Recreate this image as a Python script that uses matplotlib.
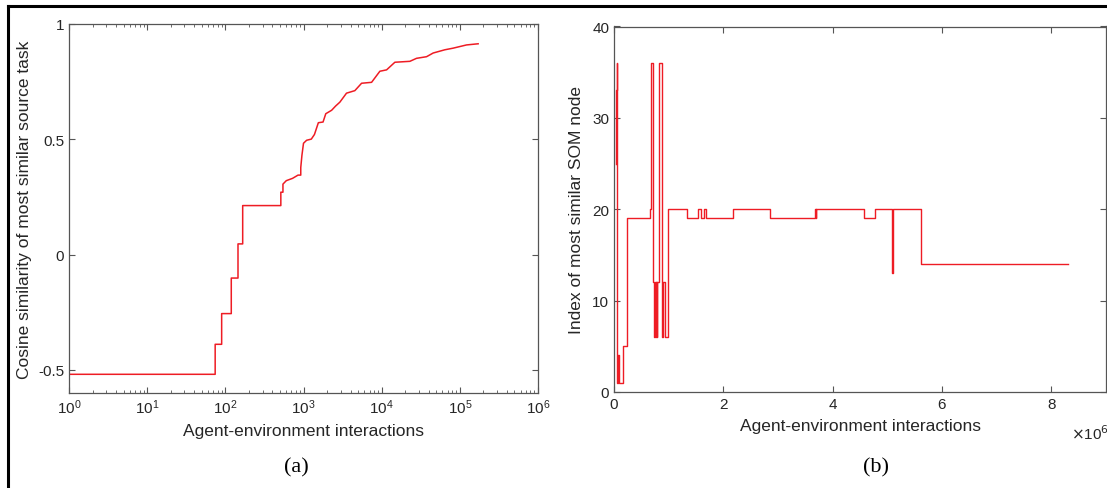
import numpy as np
import matplotlib
matplotlib.use("Agg")
import matplotlib.pyplot as plt
from matplotlib.lines import Line2D
from matplotlib.ticker import FixedLocator, LogLocator, NullFormatter, FuncFormatter

# ---- data: panel (a), cosine similarity vs interactions (log10 of x) ----
# early part is stepwise (repeated x = vertical jump), late part is a gradual curve
log_interactions_a = [0.0, 1.87, 1.87, 1.953, 1.953, 2.076, 2.076, 2.162, 2.162, 2.222,
                      2.222, 2.71, 2.71, 2.737, 2.737, 2.78, 2.86, 2.93, 2.965, 2.965,
                      2.98, 3.0, 3.04, 3.1, 3.14, 3.19, 3.25, 3.285, 3.36, 3.41,
                      3.465, 3.55, 3.657, 3.743, 3.871, 3.977, 4.063, 4.169, 4.361, 4.446,
                      4.574, 4.659, 4.808, 4.914, 5.086, 5.234]
cos_similarity = [-0.519, -0.519, -0.389, -0.389, -0.256, -0.256, -0.102, -0.102, 0.046, 0.046,
                  0.212, 0.212, 0.27, 0.27, 0.305, 0.32, 0.33, 0.344, 0.344, 0.377,
                  0.43, 0.482, 0.495, 0.50, 0.52, 0.571, 0.574, 0.61, 0.625, 0.643,
                  0.66, 0.699, 0.71, 0.742, 0.746, 0.794, 0.80, 0.833, 0.837, 0.85,
                  0.857, 0.873, 0.887, 0.894, 0.908, 0.913]

# ---- data: panel (b), SOM node index vs interactions (millions) ----
interactions_b = [0.03, 0.04, 0.05, 0.06, 0.07, 0.1, 0.13, 0.17, 0.23, 0.24, 0.655, 0.67,
                  0.72, 0.74, 0.75, 0.76, 0.77, 0.78, 0.79, 0.82, 0.87, 0.885, 0.89, 0.94,
                  0.99, 1.34, 1.53, 1.59, 1.645, 1.68, 2.18, 2.86, 3.67, 3.69, 3.70, 3.72,
                  4.57, 4.77, 5.08, 5.11, 5.61, 8.30]
som_index = [25, 33, 36, 1, 4, 1, 1, 5, 13, 19, 20, 36,
             12, 6, 12, 6, 12, 6, 12, 36, 12, 6, 12, 6,
             20, 19, 20, 19, 20, 19, 20, 19, 20, 19, 20, 20,
             19, 20, 13, 20, 14, 14]

LINE_RED = "#ee1c24"
GRAY = "#262626"
SPINE = "#555555"

plt.rcParams["font.family"] = ["Liberation Sans", "DejaVu Sans"]

fig = plt.figure(figsize=(11.07, 4.89), dpi=100)
W, H = 1107.0, 489.0


def px_axes(left, top, right, bottom):
    return fig.add_axes([left / W, 1 - bottom / H, (right - left) / W, (bottom - top) / H])


def matlab_style(ax):
    for s in ax.spines.values():
        s.set_color(SPINE)
        s.set_linewidth(0.9)
    ax.tick_params(which="both", direction="in", top=True, right=True,
                   colors=SPINE, labelcolor=GRAY, labelsize=11)
    ax.tick_params(which="major", length=4)
    ax.tick_params(which="minor", length=2)


# panel (a)
ax1 = px_axes(69, 24.7, 538, 394)
x_a = [10 ** v for v in log_interactions_a]
ax1.plot(x_a, cos_similarity, color=LINE_RED, lw=1.1)
ax1.set_xscale("log")
ax1.set_xlim(1, 1e6)
ax1.set_ylim(-0.6, 1)
ax1.xaxis.set_major_locator(LogLocator(base=10, numticks=10))
ax1.xaxis.set_minor_locator(LogLocator(base=10, subs=np.arange(2, 10), numticks=20))
ax1.xaxis.set_minor_formatter(NullFormatter())
ax1.yaxis.set_major_locator(FixedLocator([-0.5, 0, 0.5, 1]))
ax1.yaxis.set_major_formatter(FuncFormatter(lambda v, p: "%g" % v))
matlab_style(ax1)
ax1.set_xlabel("Agent-environment interactions", fontsize=12.5, color=GRAY, labelpad=5)
ax1.set_ylabel("Cosine similarity of most similar source task", fontsize=12.5, color=GRAY,
               labelpad=4)

# panel (b)
ax2 = px_axes(614, 27.5, 1106, 393)
ax2.plot(interactions_b, som_index, color=LINE_RED, lw=1.0, drawstyle="steps-post")
ax2.set_xlim(0, 9)
ax2.set_ylim(0, 40)
ax2.xaxis.set_major_locator(FixedLocator([0, 2, 4, 6, 8]))
ax2.yaxis.set_major_locator(FixedLocator([0, 10, 20, 30, 40]))
matlab_style(ax2)
ax2.set_xlabel("Agent-environment interactions", fontsize=12.5, color=GRAY, labelpad=5)
ax2.set_ylabel("Index of most similar SOM node", fontsize=12.5, color=GRAY, labelpad=6)
fig.text(1090 / W, 1 - 434 / H, r"$\times$10$^6$", fontsize=11, color=GRAY,
         ha="center", va="center")

# sub-figure captions
fig.text(296 / W, 1 - 468 / H, "(a)", fontsize=16, family=["Liberation Serif"],
         ha="center", va="center")
fig.text(876 / W, 1 - 468 / H, "(b)", fontsize=16, family=["Liberation Serif"],
         ha="center", va="center")

# outer frame lines (top and left)
fig.add_artist(Line2D([7.5 / W, 1], [1 - 7 / H, 1 - 7 / H], color="black", lw=2.2,
                      transform=fig.transFigure))
fig.add_artist(Line2D([7.5 / W, 7.5 / W], [0, 1 - 7 / H], color="black", lw=2.2,
                      transform=fig.transFigure))

fig.savefig("out.png", dpi=100)
